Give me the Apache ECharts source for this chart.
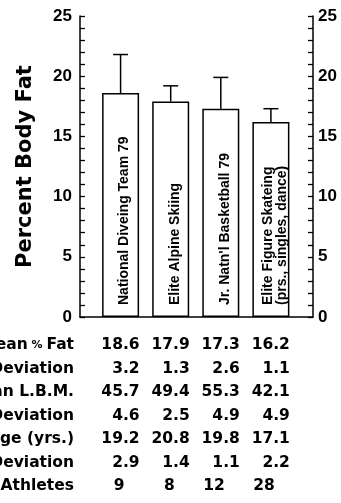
<!DOCTYPE html>
<html>
<head>
<meta charset="utf-8">
<script src="https://cdn.jsdelivr.net/npm/echarts@6/dist/echarts.min.js"></script>
<style>
  html, body { margin: 0; padding: 0; background: #fff; }
  #chart { width: 341px; height: 503px; }
</style>
</head>
<body>
<div id="chart"></div>
<script>
// Groups of athletes (one bar each)
const categories = [
  'National Diveing Team 79',
  'Elite Alpine Skiing',
  "Jr. Natn'l Basketball 79",
  'Elite Figure Skateing\n(prs., singles, dance)'
];
const meanFat = [18.6, 17.9, 17.3, 16.2];
const sdFat   = [3.2, 1.3, 2.6, 1.1];
const meanLBM = [45.7, 49.4, 55.3, 42.1];
const sdLBM   = [4.6, 2.5, 4.9, 4.9];
const meanAge = [19.2, 20.8, 19.8, 17.1];
const sdAge   = [2.9, 1.4, 1.1, 2.2];
const athletes = [9, 8, 12, 28];

const rowLabels = [
  'Mean{p| % }Fat',
  'Standard Deviation',
  'Mean L.B.M.',
  'Standard Deviation',
  'Age (yrs.)',
  'Standard Deviation',
  'No. Athletes'
];
const rowValues = [meanFat, sdFat, meanLBM, sdLBM, meanAge, sdAge, athletes];

const yMin = 0, yMax = 25, yStep = 5;

const chart = echarts.init(document.getElementById('chart'), null, { renderer: 'canvas' });

const barData = meanFat.map((v, i) => [i + 1, v]);
const errData = meanFat.map((v, i) => [i + 1, v, v + sdFat[i]]);

const axisFont = 'Liberation Sans, Arial, Helvetica, sans-serif';
const tableFont = 'DejaVu Sans, Verdana, sans-serif';

function yAxisCfg(pos, margin) {
  return {
    type: 'value',
    position: pos,
    min: yMin, max: yMax, interval: yStep,
    axisLine: { show: true, lineStyle: { color: '#000', width: 1.5 } },
    axisTick: { show: true, inside: true, length: 5, lineStyle: { color: '#000', width: 1.3 } },
    minorTick: { show: true, splitNumber: 5, length: 5, lineStyle: { color: '#000', width: 1.3 } },
    axisLabel: { margin: margin, color: '#000', fontFamily: axisFont, fontWeight: 'bold', fontSize: 17 },
    splitLine: { show: false }
  };
}

const left = yAxisCfg('left', 8);
left.name = 'Percent Body Fat';
left.nameLocation = 'middle';
left.nameGap = 44;
left.nameTextStyle = { color: '#000', fontFamily: tableFont, fontWeight: 'bold', fontSize: 21 };

chart.setOption({
  animation: false,
  grid: { left: 80, right: 28, top: 16, bottom: 186 },
  xAxis: {
    type: 'value',
    min: 0.19, max: 4.84,
    axisLine: { show: true, onZero: false, lineStyle: { color: '#000', width: 1.5 } },
    axisTick: { show: false },
    axisLabel: { show: false },
    splitLine: { show: false }
  },
  yAxis: [left, yAxisCfg('right', 5)],
  series: [
    {
      type: 'bar',
      data: barData,
      barWidth: 37,
      itemStyle: { color: '#fff', borderColor: '#000', borderWidth: 1.5 },
      label: {
        show: true,
        position: 'insideBottom',
        rotate: 90,
        align: 'left',
        verticalAlign: 'middle',
        distance: 12,
        offset: [0, 4],
        color: '#000',
        fontFamily: axisFont,
        fontWeight: 'bold',
        fontSize: 14,
        lineHeight: 14,
        formatter: p => categories[p.dataIndex]
      },
      z: 2
    },
    {
      type: 'custom',
      data: errData,
      renderItem: (params, api) => {
        const x = api.value(0);
        const base = api.coord([x, api.value(1)]);
        const top = api.coord([x, api.value(2)]);
        const half = 7.5;
        const style = { stroke: '#000', lineWidth: 1.5 };
        return {
          type: 'group',
          children: [
            { type: 'line', shape: { x1: base[0], y1: base[1], x2: top[0], y2: top[1] }, style },
            { type: 'line', shape: { x1: top[0] - half, y1: top[1], x2: top[0] + half, y2: top[1] }, style }
          ]
        };
      },
      z: 3
    }
  ]
});

// Summary table under the plot, columns aligned with the bars
const rowTop = 345, rowStep = 23.5;
const graphics = [];
rowLabels.forEach((label, r) => {
  const y = rowTop + r * rowStep;
  graphics.push({
    type: 'text', x: 74, y: y,
    style: {
      text: label, align: 'right', verticalAlign: 'middle',
      fill: '#000', font: 'bold 15.5px ' + tableFont,
      rich: { p: { fontSize: 11, fontWeight: 'bold', fontFamily: tableFont, fill: '#000' } }
    }
  });
  rowValues[r].forEach((v, c) => {
    const cx = chart.convertToPixel({ xAxisIndex: 0 }, c + 1);
    const isInt = Number.isInteger(v) && r === rowValues.length - 1;
    graphics.push({
      type: 'text', x: isInt ? cx + 4 : cx + 19, y: y,
      style: {
        text: isInt ? String(v) : v.toFixed(1),
        align: 'right', verticalAlign: 'middle',
        fill: '#000', font: 'bold 15.5px ' + tableFont
      }
    });
  });
});
chart.setOption({ graphic: graphics });
</script>
</body>
</html>
